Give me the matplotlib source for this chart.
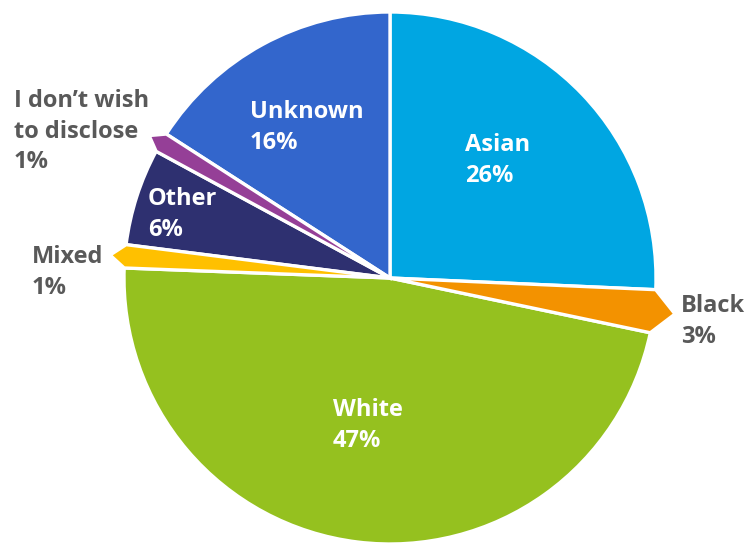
import numpy as np
import matplotlib
matplotlib.use("Agg")
import matplotlib.pyplot as plt
from matplotlib.patches import Polygon

# slice data, clockwise from 12 o'clock
categories = ["Asian", "Black", "White", "Mixed", "Other",
              "I don\u2019t wish\nto disclose", "Unknown"]
shares = [25.7, 2.6, 47.3, 1.4, 5.9, 1.2, 15.9]
pct_labels = ["26%", "3%", "47%", "1%", "6%", "1%", "16%"]
colors = ["#00A6E2", "#F39200", "#95C11F", "#FFC000", "#2E3070", "#953F97", "#3366CC"]

# label anchors in pixel coords (left aligned, top of first line) and text colour
label_px = [(465, 133), (681, 294), (333, 398), (32, 245), (148, 187), (14, 89), (250, 100)]
label_inside = [True, False, True, False, True, False, True]
tip_ext = [None, 1.08, None, 1.056, None, 1.052, None]

W, H = 748, 545
cx, cy, R = 390, 278, 266

fig = plt.figure(figsize=(W / 100, H / 100), dpi=100)
ax = fig.add_axes([0, 0, 1, 1])
ax.set_aspect("equal")
ax.axis("off")

wedges, _ = ax.pie(shares, colors=colors, startangle=90, counterclock=False,
                   radius=1, wedgeprops=dict(edgecolor="white", linewidth=2.4))
ax.set_xlim(-cx / R, (W - cx) / R)
ax.set_ylim(-(H - cy) / R, cy / R)

# small slices get a pointed tab instead of the arc
for w, ext in zip(wedges, tip_ext):
    if ext is None:
        continue
    t1, t2 = np.radians(w.theta1), np.radians(w.theta2)
    mid = (t1 + t2) / 2
    pts = [(0, 0), (np.cos(t1), np.sin(t1)),
           (ext * np.cos(mid), ext * np.sin(mid)),
           (np.cos(t2), np.sin(t2))]
    w.set_visible(False)
    ax.add_patch(Polygon(pts, closed=True, facecolor=w.get_facecolor(),
                         edgecolor="white", linewidth=2.4, joinstyle="miter"))

for cat, pct, (px, py), inside in zip(categories, pct_labels, label_px, label_inside):
    x = (px - cx) / R
    y = (cy - py) / R
    ax.text(x, y, f"{cat}\n{pct}", ha="left", va="top", fontsize=17,
            fontweight="bold", family="Open Sans",
            color="white" if inside else "#595959", linespacing=1.37)

fig.savefig("out.png", dpi=100)
